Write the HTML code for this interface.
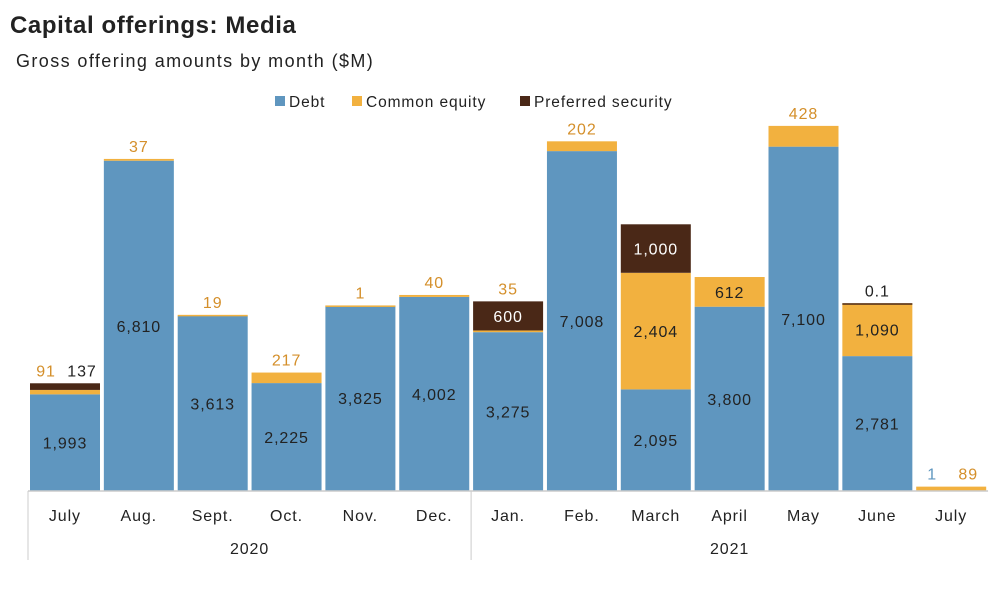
<!DOCTYPE html>
<html><head><meta charset="utf-8"><style>
body{margin:0;background:#fff;font-family:"Liberation Sans",sans-serif;}
svg text{font-family:"Liberation Sans",sans-serif;}
</style></head><body>
<svg id="c" width="1004" height="584">
<text x="10" y="33" font-size="24" font-weight="bold" letter-spacing="0.6" fill="#222">Capital offerings: Media</text>
<text x="16" y="67" font-size="18" letter-spacing="1.4" fill="#222">Gross offering amounts by month ($M)</text>
<g font-size="15.5" letter-spacing="0.9">
<rect x="275" y="96" width="10" height="10" fill="#5f96bf"/>
<text x="289" y="107" fill="#222">Debt</text>
<rect x="352" y="96" width="10" height="10" fill="#f2b13f"/>
<text x="366" y="107" fill="#222">Common equity</text>
<rect x="520" y="96" width="10" height="10" fill="#4a2817"/>
<text x="534" y="107" fill="#222">Preferred security</text>
</g>
<g id="bars"></g>
</svg>
<script>
const categories=["July","Aug.","Sept.","Oct.","Nov.","Dec.","Jan.","Feb.","March","April","May","June","July"];
const debt=[1993,6810,3613,2225,3825,4002,3275,7008,2095,3800,7100,2781,1];
const equity=[91,37,19,217,1,40,35,202,2404,612,428,1090,89];
const preferred=[137,0,0,0,0,0,600,0,1000,0,0,0.1,0];
const years=[{label:"2020",from:0,to:6},{label:"2021",from:6,to:13}];
const NS="http://www.w3.org/2000/svg";
const g=document.getElementById('bars');
const base=491,k=0.0485,x0=28,step=73.85,bw=70;
const y=v=>base-v*k;
const xs=i=>x0+i*step+2;
function el(t,a){const e=document.createElementNS(NS,t);for(const n in a)e.setAttribute(n,a[n]);g.appendChild(e);return e;}
function txt(x,yy,s,col,name){const t=el('text',{x:x,y:yy,'font-size':16,'letter-spacing':0.9,fill:col,'text-anchor':'middle'});t.textContent=s;

return t;}
const fmt=v=>v>=1?v.toLocaleString('en-US'):String(v);
const ORG="#d48f2a";
categories.forEach((c,i)=>{
  const d=debt[i],e=equity[i],p=preferred[i],x=xs(i),cx=x+bw/2;
  let r=el('rect',{x:x,y:y(d),width:bw,height:d*k,fill:'#5f96bf'});
  
  
  r=el('rect',{x:x,y:y(d+e),width:bw,height:Math.max(e*k,e>0?1.5:0),fill:'#f2b13f'});
  
  
  r=el('rect',{x:x,y:y(d+e+p),width:bw,height:Math.max(p*k,p>0?1.5:0),fill:'#4a2817'});
  
  
  const top=y(d+e+p);
  if(d*k>25) txt(cx,y(d/2)+6,fmt(d),'#222','label-debt-'+i);
  const eIn=e*k>25,pIn=p*k>25;
  const outside=[];
  if(!(d*k>25)) outside.push([fmt(d),'#5f96bf','label-debt-'+i]);
  if(e>0){ if(eIn) txt(cx,y(d+e/2)+6,fmt(e),'#222','label-equity-'+i); else outside.push([fmt(e),ORG,'label-equity-'+i]); }
  if(p>0){ if(pIn) txt(cx,y(d+e+p/2)+6,fmt(p),'#fff','label-preferred-'+i); else outside.push([fmt(p),'#222','label-preferred-'+i]); }
  if(outside.length===1) txt(cx,top-7,outside[0][0],outside[0][1],outside[0][2]);
  else if(outside.length===2){ txt(cx-19,top-7,outside[0][0],outside[0][1],outside[0][2]); txt(cx+17,top-7,outside[1][0],outside[1][1],outside[1][2]); }
  txt(x0+i*step+step/2,base+30,c,'#222','category-label-'+i);
});
let ax=el('line',{x1:x0,y1:base,x2:x0+13*step,y2:base,stroke:'#ccc','stroke-width':1.5});


years.forEach((yr,j)=>{
  const l=el('line',{x1:x0+yr.from*step,y1:base,x2:x0+yr.from*step,y2:560,stroke:'#ccc','stroke-width':1});
  
  
  txt(x0+(yr.from+yr.to)/2*step,base+63,yr.label,'#222','year-label-'+yr.label);
});
</script>
</body></html>
